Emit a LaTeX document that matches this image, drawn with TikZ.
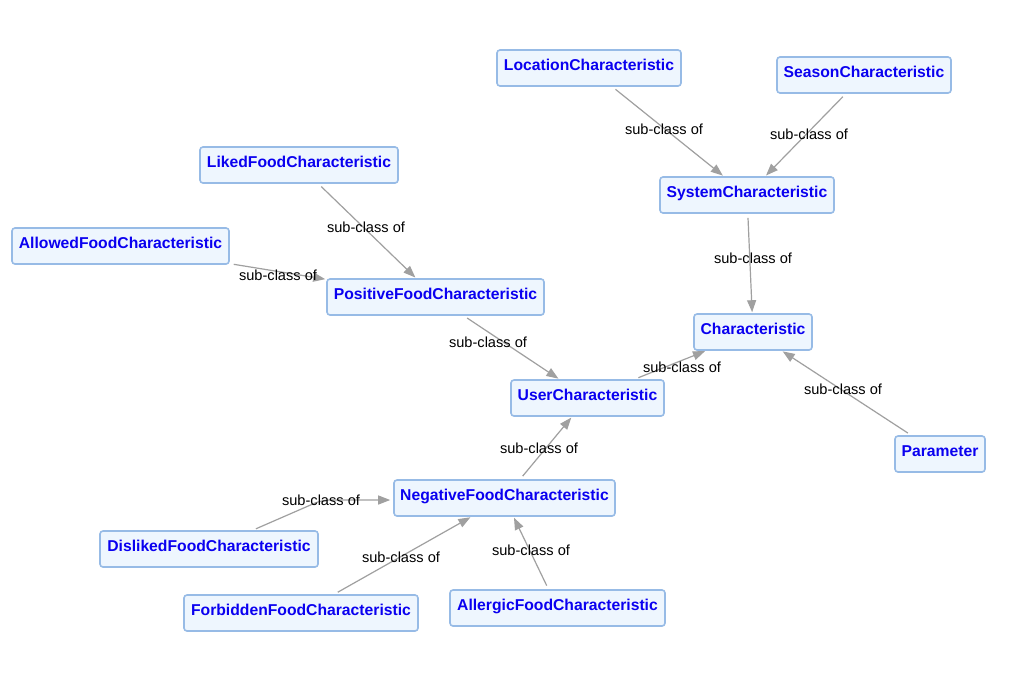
\documentclass[tikz,border=0pt]{standalone}
\usepackage{fontspec}
\setmainfont{Liberation Sans}
\usetikzlibrary{arrows.meta,calc}
\definecolor{boxfill}{RGB}{238,246,254}
\definecolor{boxline}{RGB}{151,187,230}
\definecolor{txtblue}{RGB}{10,0,240}
\definecolor{edgegray}{RGB}{160,160,160}
\tikzset{
  cls/.style={draw=boxline, fill=boxfill, line width=1.6pt, rounded corners=3pt,
    minimum height=36pt, inner ysep=0pt, inner xsep=0pt,
    text height=11.5pt, text depth=7.3pt,
    font=\fontsize{15.7}{18}\selectfont\bfseries, text=txtblue},
  edge/.style={draw=edgegray, line width=1.2pt,
    -{Triangle[length=12pt,width=9pt]}, shorten <=4pt, shorten >=1pt},
  lbl/.style={font=\fontsize{14.6}{16}\selectfont, text=black, inner sep=0pt,
    text height=10.4pt, text depth=0pt}
}
\begin{document}
\begin{tikzpicture}[x=1pt,y=-1pt]
\useasboundingbox[fill=white] (0,0) rectangle (1011,673);
% classes
\node[cls, minimum width=184pt] (loc) at (589,68) {LocationCharacteristic};
\node[cls, minimum width=174pt] (sea) at (864,75) {SeasonCharacteristic};
\node[cls, minimum width=174pt] (sys) at (747,195) {SystemCharacteristic};
\node[cls, minimum width=198pt] (lik) at (299,165) {LikedFoodCharacteristic};
\node[cls, minimum width=217pt] (alw) at (120.5,246) {AllowedFoodCharacteristic};
\node[cls, minimum width=217pt] (pos) at (435.5,297) {PositiveFoodCharacteristic};
\node[cls, minimum width=118pt] (chr) at (753,332) {Characteristic};
\node[cls, minimum width=153pt] (usr) at (587.5,398) {UserCharacteristic};
\node[cls, minimum width=90pt]  (par) at (940,454) {Parameter};
\node[cls, minimum width=221pt] (neg) at (504.5,498) {NegativeFoodCharacteristic};
\node[cls, minimum width=218pt] (dis) at (209,549) {DislikedFoodCharacteristic};
\node[cls, minimum width=234pt] (frb) at (301,613) {ForbiddenFoodCharacteristic};
\node[cls, minimum width=215pt] (alg) at (557.5,608) {AllergicFoodCharacteristic};
\coordinate (dk) at (322,500);
% edges
\draw[edge] (loc) -- (sys);
\draw[edge] (sea) -- (sys);
\draw[edge] (sys) -- (chr);
\draw[edge] (lik) -- (pos);
\draw[edge] (alw) -- (pos);
\draw[edge] (pos) -- (usr);
\draw[edge] (usr) -- (chr);
\draw[edge] (par) -- (chr);
\draw[edge] (neg) -- (usr);
\draw[edge, shorten <=1pt, shorten >=3pt, rounded corners=8pt] ([shift={(46pt,1pt)}]dis.north) -- (dk) -- ([yshift=-2pt]neg.west);
\draw[edge] (frb) -- (neg);
\draw[edge] (alg) -- (neg);
% labels
\node[lbl] (l1) at (664,129) {sub-class of};
\node[lbl] (l2) at (809,134) {sub-class of};
\node[lbl] (l3) at (753,258) {sub-class of};
\node[lbl] (l4) at (366,227) {sub-class of};
\node[lbl] (l5) at (278,275) {sub-class of};
\node[lbl] (l6) at (488,342) {sub-class of};
\node[lbl] (l7) at (682,367) {sub-class of};
\node[lbl] (l8) at (843,389) {sub-class of};
\node[lbl] (l9) at (539,448) {sub-class of};
\node[lbl] (l10) at (321,500) {sub-class of};
\node[lbl] (l11) at (401,557) {sub-class of};
\node[lbl] (l12) at (531,550) {sub-class of};
\end{tikzpicture}
\end{document}
